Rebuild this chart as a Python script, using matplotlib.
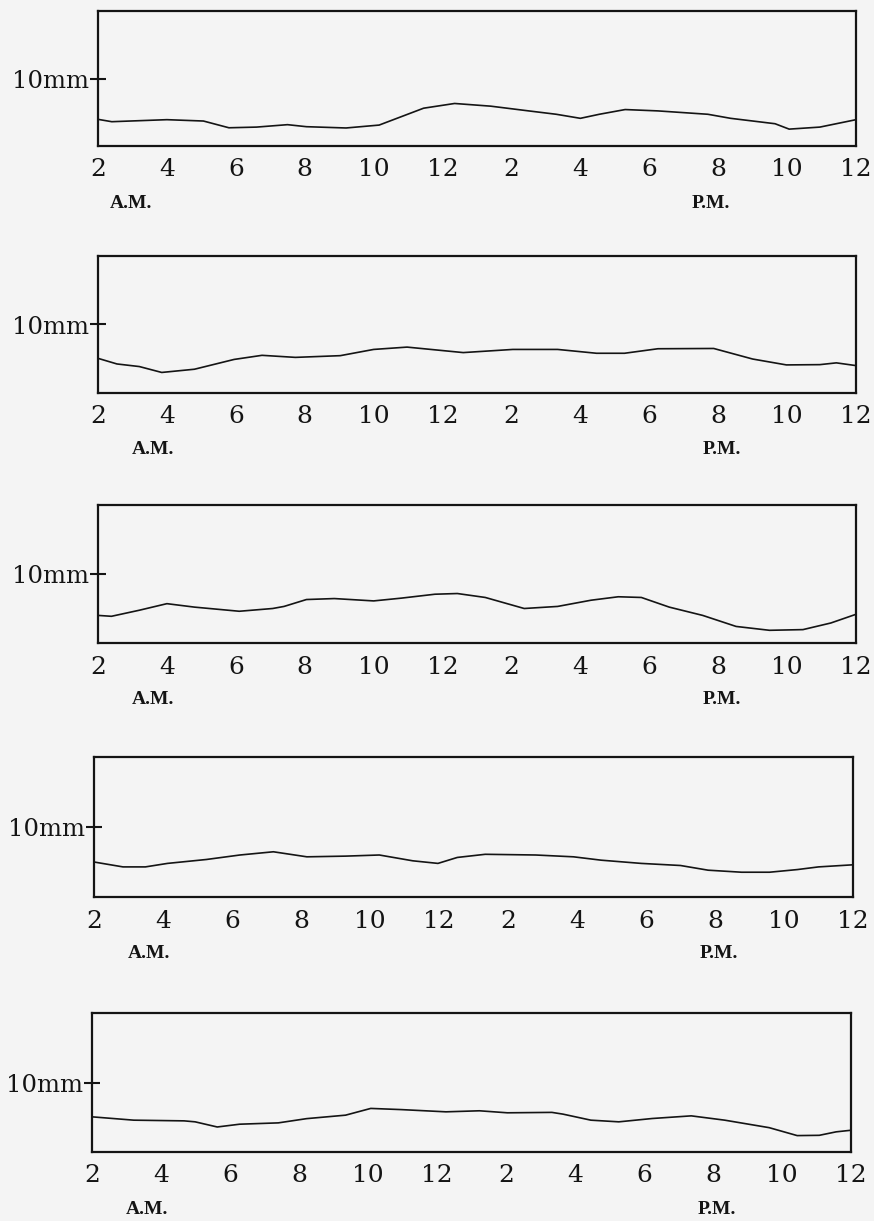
import matplotlib
matplotlib.use("Agg")
import matplotlib.pyplot as plt

# ---------------- data (hours from 2 A.M. to 12 midnight; depth in mm) ----------------
tick_hours = [2, 4, 6, 8, 10, 12, 14, 16, 18, 20, 22, 24]
tick_labels = ["2", "4", "6", "8", "10", "12", "2", "4", "6", "8", "10", "12"]

hours_1 = [2.0, 2.4, 4.0, 5.06, 5.8, 6.6, 7.5, 8.05, 9.2, 10.16, 11.45, 12.35, 13.4,
           14.5, 15.3, 16.0, 16.55, 17.3, 18.25, 19.7, 20.36, 21.65, 22.06, 22.95, 24.0]
depth_1 = [3.95, 3.6, 3.9, 3.7, 2.7, 2.8, 3.16, 2.86, 2.67, 3.1, 5.6, 6.3, 5.9,
           5.2, 4.7, 4.1, 4.7, 5.4, 5.2, 4.7, 4.1, 3.3, 2.5, 2.8, 3.9]

hours_2 = [2.0, 2.55, 3.2, 3.85, 4.8, 5.95, 6.76, 7.73, 9.03, 10.0, 10.97, 12.6, 14.04,
           15.34, 16.47, 17.28, 18.25, 19.87, 21.0, 21.98, 22.95, 23.43, 24.0]
depth_2 = [5.06, 4.24, 3.86, 3.0, 3.47, 4.9, 5.5, 5.2, 5.45, 6.36, 6.7, 5.9, 6.36,
           6.36, 5.8, 5.8, 6.46, 6.5, 4.96, 4.1, 4.14, 4.4, 4.0]

hours_3 = [2.0, 2.39, 3.2, 4.0, 4.8, 6.1, 7.07, 7.4, 8.05, 8.86, 10.0, 10.8, 11.78, 12.43,
           13.24, 14.37, 15.34, 16.31, 17.1, 17.77, 18.58, 19.55, 20.52, 21.49, 22.46, 23.27, 24.0]
depth_3 = [4.0, 3.87, 4.75, 5.7, 5.2, 4.6, 5.0, 5.3, 6.3, 6.44, 6.1, 6.5, 7.07, 7.17,
           6.6, 5.0, 5.3, 6.2, 6.7, 6.6, 5.2, 4.0, 2.4, 1.84, 1.94, 2.9, 4.16]

hours_4 = [2.0, 2.84, 3.49, 4.13, 5.26, 6.23, 7.2, 8.17, 9.3, 10.27, 11.24, 11.97, 12.53,
           13.34, 14.8, 15.9, 16.7, 17.86, 19.0, 19.8, 20.77, 21.58, 22.39, 23.0, 24.0]
depth_4 = [5.0, 4.3, 4.3, 4.8, 5.36, 6.0, 6.46, 5.74, 5.84, 6.0, 5.17, 4.8, 5.65,
           6.1, 6.0, 5.74, 5.26, 4.8, 4.5, 3.83, 3.54, 3.54, 3.92, 4.3, 4.6]

hours_5 = [2.0, 3.21, 4.67, 4.99, 5.63, 6.28, 7.4, 8.22, 9.35, 10.08, 10.97, 12.26, 13.23,
           14.04, 15.33, 15.65, 16.46, 17.27, 18.24, 19.37, 20.34, 21.63, 22.44, 23.08, 23.57, 24.0]
depth_5 = [5.06, 4.58, 4.48, 4.34, 3.6, 4.0, 4.19, 4.8, 5.3, 6.27, 6.1, 5.78, 5.93,
           5.64, 5.7, 5.45, 4.58, 4.34, 4.82, 5.2, 4.58, 3.5, 2.36, 2.4, 2.9, 3.13]

am_pm_hours_1 = [2.95, 19.8]
am_pm_hours = [3.6, 20.1]

# ---------------- layout ----------------
W, H = 874, 1221
BG = "#f4f4f4"
INK = "#141414"
SERIF = ["DejaVu Serif"]
SERIF_SMALL = ["Liberation Serif", "DejaVu Serif"]

# (left px, right px, top px, bottom px)
boxes = [(98, 856, 11, 146),
         (98, 856, 256, 393),
         (98, 856, 505, 643),
         (94, 853, 757, 897),
         (92, 851, 1013, 1152)]
series = [(hours_1, depth_1), (hours_2, depth_2), (hours_3, depth_3),
          (hours_4, depth_4), (hours_5, depth_5)]

fig = plt.figure(figsize=(W / 100, H / 100), dpi=100)
fig.patch.set_facecolor(BG)

for i, ((l, r, t, b), (hx, dy)) in enumerate(zip(boxes, series)):
    ax = fig.add_axes([l / W, 1 - b / H, (r - l) / W, (b - t) / H])
    ax.set_facecolor(BG)
    ax.plot(hx, dy, color=INK, lw=1.2, solid_capstyle="round", solid_joinstyle="round")
    ax.set_xlim(2, 24)
    ax.set_ylim(0, 20)
    for s in ax.spines.values():
        s.set_linewidth(1.6)
        s.set_color(INK)
    ax.set_xticks(tick_hours)
    ax.set_xticklabels(tick_labels, fontfamily=SERIF, fontsize=18, color=INK)
    ax.tick_params(axis="x", length=0, pad=9)
    ax.set_yticks([10])
    ax.set_yticklabels(["10mm"], fontfamily=SERIF, fontsize=17.5, color=INK)
    ax.tick_params(axis="y", direction="inout", length=11, width=1.5, color=INK, pad=1)
    apx = am_pm_hours_1 if i == 0 else am_pm_hours
    for hx_lab, txt in zip(apx, ["A.M.", "P.M."]):
        ax.annotate(txt, xy=(hx_lab, 0), xycoords=("data", "axes fraction"),
                    xytext=(0, -57), textcoords="offset pixels",
                    ha="center", va="center", fontfamily=SERIF_SMALL, fontsize=14,
                    fontweight="bold", color=INK)

fig.savefig("out.png", dpi=100, facecolor=BG)
